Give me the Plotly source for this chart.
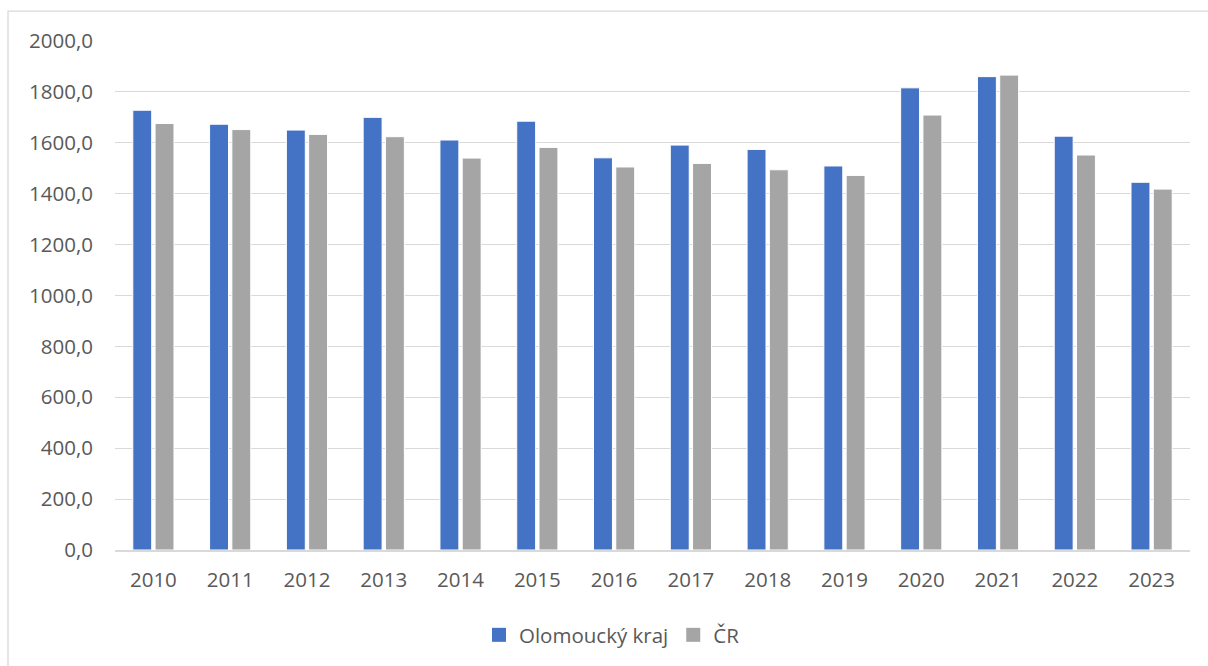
import plotly.graph_objects as go

years = ["2010", "2011", "2012", "2013", "2014", "2015", "2016",
         "2017", "2018", "2019", "2020", "2021", "2022", "2023"]
olomoucky = [1728, 1673, 1650, 1700, 1611, 1685, 1541,
             1591, 1574, 1509, 1816, 1860, 1626, 1445]
cr = [1676, 1652, 1633, 1624, 1540, 1582, 1505,
      1519, 1494, 1472, 1709, 1866, 1552, 1418]
series_names = ["Olomoucký kraj", "ČR"]
y_ticks = [0, 200, 400, 600, 800, 1000, 1200, 1400, 1600, 1800, 2000]
y_tick_text = ["0,0", "200,0", "400,0", "600,0", "800,0", "1000,0", "1200,0",
               "1400,0", "1600,0", "1800,0", "2000,0"]

FONT = "Open Sans"
TXT = "#595959"
FS = 20.5
COLORS = ["#4472C4", "#A5A5A5"]

fig = go.Figure()
for vals, name, col in zip([olomoucky, cr], series_names, COLORS):
    fig.add_trace(go.Bar(x=years, y=vals, name=name, showlegend=False,
                         marker=dict(color=col, line=dict(color="white", width=1))))
# legend entries with larger square swatches
for name, col in zip(series_names, COLORS):
    fig.add_trace(go.Scatter(x=[None], y=[None], mode="markers", name=name,
                             marker=dict(symbol="square", size=14, color=col),
                             showlegend=True))

L, R, T, B = 115, 18, 41, 115
W, H = 1208, 666
pw = W - L - R
ph = H - T - B

def px2x(px):
    return (px - L) / pw

def py2y(py):
    return (H - B - py) / ph

fig.update_layout(
    width=W, height=H,
    margin=dict(l=L, r=R, t=T, b=B, pad=0),
    paper_bgcolor="white", plot_bgcolor="white",
    barmode="group", bargap=0.42, bargroupgap=0.15,
    font=dict(family=FONT, size=FS, color=TXT),
    showlegend=True,
    legend=dict(orientation="h", x=px2x(612), xanchor="center",
                y=py2y(635), yanchor="middle",
                font=dict(family=FONT, size=FS, color=TXT),
                itemwidth=30, traceorder="normal"),
    xaxis=dict(showgrid=False, showline=True, linecolor="#D9D9D9", linewidth=1.5,
               ticks="", tickfont=dict(family=FONT, size=FS, color=TXT),
               ticklabelstandoff=11),
    yaxis=dict(range=[0, 2000], tickvals=y_ticks, ticktext=y_tick_text,
               showgrid=True, gridcolor="#D9D9D9", gridwidth=1.3,
               zeroline=False, showline=False, ticks="",
               tickfont=dict(family=FONT, size=FS, color=TXT),
               ticklabelstandoff=21),
    shapes=[dict(type="rect", xref="paper", yref="paper",
                 x0=px2x(8), x1=px2x(1230), y0=py2y(11), y1=py2y(700),
                 line=dict(color="#D9D9D9", width=1.3), fillcolor="rgba(0,0,0,0)",
                 layer="below")],
)

fig.write_html("out.html")
